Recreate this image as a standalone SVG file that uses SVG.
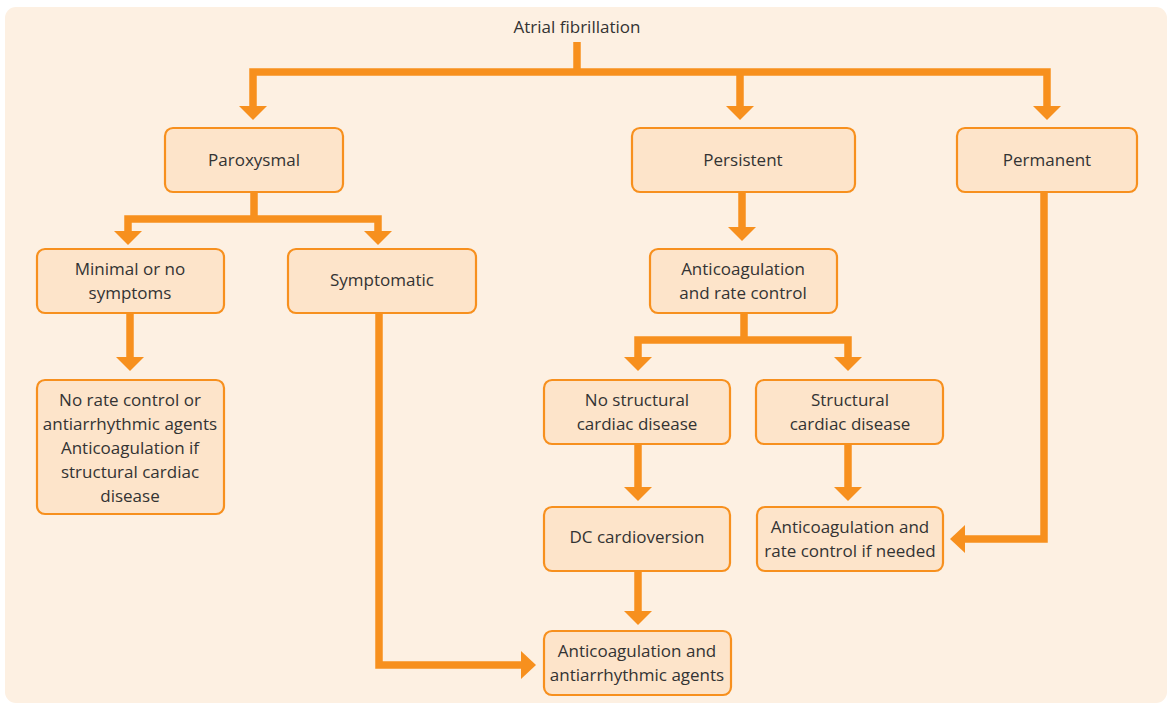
<svg xmlns="http://www.w3.org/2000/svg" width="1172" height="706" viewBox="0 0 1172 706">
  <defs>
    <style>
      .bg { fill: #FDF0E2; }
      .box rect { fill: #FDE4CA; stroke: #F7901E; stroke-width: 2.2; }
      .box text, .title { font-family: "Open Sans", "Liberation Sans", sans-serif; font-size: 17px; fill: #333333; text-anchor: middle; }
      .wire { fill: none; stroke: #F7901E; stroke-width: 7.5; stroke-linejoin: miter; }
      .head { fill: #F7901E; }
    </style>
  </defs>

  <rect width="1172" height="706" fill="#FFFFFF"/>
  <rect class="bg" x="5" y="7" width="1162" height="696" rx="11"/>

  <text class="title" x="577" y="33">Atrial fibrillation</text>

  <!-- connectors -->
  <g id="connectors">
    <path class="wire" d="M577 42 V72 M253 106 V72 H1047 V106 M740 72 V106"/>
    <polygon class="head" points="239,106 267,106 253,120"/>
    <polygon class="head" points="726,106 754,106 740,120"/>
    <polygon class="head" points="1033,106 1061,106 1047,120"/>

    <path class="wire" d="M254 192 V219 M128 231 V219 H378 V231"/>
    <polygon class="head" points="114,231 142,231 128,245"/>
    <polygon class="head" points="364,231 392,231 378,245"/>

    <path class="wire" d="M130 313 V358"/>
    <polygon class="head" points="116,357 144,357 130,371"/>

    <path class="wire" d="M379 313 V665 H522"/>
    <polygon class="head" points="521,651 521,679 536,665"/>

    <path class="wire" d="M742 192 V228"/>
    <polygon class="head" points="728,227 756,227 742,241"/>

    <path class="wire" d="M744 313 V340 M638 358 V340 H848 V358"/>
    <polygon class="head" points="624,357 652,357 638,371"/>
    <polygon class="head" points="834,357 862,357 848,371"/>

    <path class="wire" d="M638 444 V488"/>
    <polygon class="head" points="624,487 652,487 638,501"/>

    <path class="wire" d="M638 571 V612"/>
    <polygon class="head" points="624,611 652,611 638,625"/>

    <path class="wire" d="M848 444 V488"/>
    <polygon class="head" points="834,487 862,487 848,501"/>

    <path class="wire" d="M1044 192 V539 H964"/>
    <polygon class="head" points="965,525 965,553 950,539"/>
  </g>

  <!-- nodes -->
  <g id="paroxysmal" class="box">
    <rect x="165" y="128" width="178" height="64" rx="8"/>
    <text x="254" y="166">Paroxysmal</text>
  </g>
  <g id="persistent" class="box">
    <rect x="632" y="128" width="223" height="64" rx="8"/>
    <text x="743" y="166">Persistent</text>
  </g>
  <g id="permanent" class="box">
    <rect x="957" y="128" width="180" height="64" rx="8"/>
    <text x="1047" y="166">Permanent</text>
  </g>
  <g id="minimal" class="box">
    <rect x="37" y="249" width="187" height="64" rx="8"/>
    <text x="130" y="275">Minimal or no</text>
    <text x="130" y="299">symptoms</text>
  </g>
  <g id="symptomatic" class="box">
    <rect x="288" y="249" width="188" height="64" rx="8"/>
    <text x="382" y="286">Symptomatic</text>
  </g>
  <g id="anticoag-rate" class="box">
    <rect x="650" y="249" width="187" height="64" rx="8"/>
    <text x="743" y="275">Anticoagulation</text>
    <text x="743" y="299">and rate control</text>
  </g>
  <g id="no-rate-control" class="box">
    <rect x="37" y="380" width="187" height="134" rx="8"/>
    <text x="130" y="406">No rate control or</text>
    <text x="130" y="430">antiarrhythmic agents</text>
    <text x="130" y="454">Anticoagulation if</text>
    <text x="130" y="478">structural cardiac</text>
    <text x="130" y="502">disease</text>
  </g>
  <g id="no-structural" class="box">
    <rect x="544" y="380" width="186" height="64" rx="8"/>
    <text x="637" y="406">No structural</text>
    <text x="637" y="430">cardiac disease</text>
  </g>
  <g id="structural" class="box">
    <rect x="756" y="380" width="187" height="64" rx="8"/>
    <text x="850" y="406">Structural</text>
    <text x="850" y="430">cardiac disease</text>
  </g>
  <g id="dc-cardioversion" class="box">
    <rect x="544" y="507" width="186" height="64" rx="8"/>
    <text x="637" y="543">DC cardioversion</text>
  </g>
  <g id="anticoag-rate-if-needed" class="box">
    <rect x="757" y="507" width="186" height="64" rx="8"/>
    <text x="850" y="533">Anticoagulation and</text>
    <text x="850" y="557">rate control if needed</text>
  </g>
  <g id="anticoag-antiarrhythmic" class="box">
    <rect x="544" y="631" width="187" height="64" rx="8"/>
    <text x="637" y="657">Anticoagulation and</text>
    <text x="637" y="681">antiarrhythmic agents</text>
  </g>
</svg>
